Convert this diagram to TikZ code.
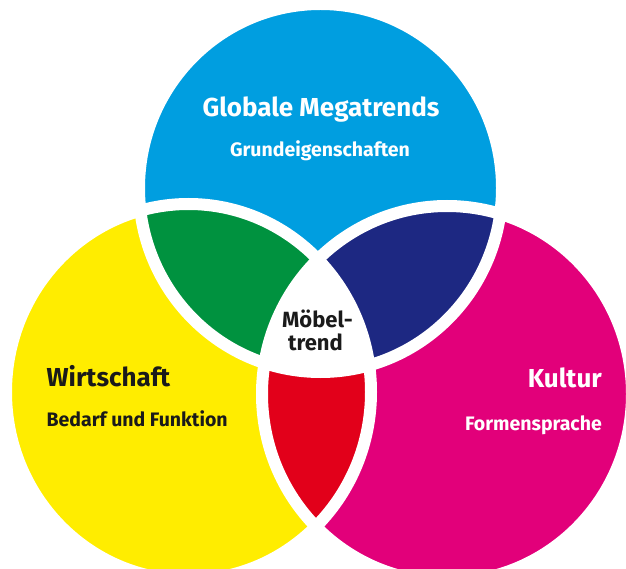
\documentclass[tikz,border=0pt]{standalone}
\usepackage{fontspec}
\setmainfont{Fira Sans}
\definecolor{cblue}{RGB}{0,158,224}
\definecolor{cyel}{RGB}{255,237,0}
\definecolor{cmag}{RGB}{226,0,122}
\definecolor{cgreen}{RGB}{0,146,63}
\definecolor{cnavy}{RGB}{29,40,130}
\definecolor{cred}{RGB}{226,0,26}
\definecolor{ctext}{RGB}{26,26,26}
\begin{document}
\begin{tikzpicture}[x=1pt,y=-1pt,
  band/.style={draw=white, line width=12pt},
  titletext/.style={font=\bfseries\fontsize{26}{30}\selectfont, inner sep=0pt},
  subtext/.style={font=\bfseries\fontsize{19.5}{23}\selectfont, inner sep=0pt},
  midtext/.style={font=\bfseries\fontsize{22}{24}\selectfont, inner sep=0pt, text=ctext}]
\useasboundingbox (0,0) rectangle (626,569);
\clip (0,0) rectangle (626,569);
\def\Bcirc{(320.5,188) ellipse [x radius=181.5pt, y radius=184pt]}
\def\Ycirc{(188.5,392) ellipse [x radius=182.5pt, y radius=188pt]}
\def\Mcirc{(447,394) ellipse [x radius=185pt, y radius=188pt]}
\fill[white] (0,0) rectangle (626,569);
\fill[cyel] \Ycirc;
\fill[cmag] \Mcirc;
\fill[cblue] \Bcirc;
\begin{scope}
  \clip \Bcirc;
  \fill[cgreen] \Ycirc;
  \fill[cnavy] \Mcirc;
\end{scope}
\begin{scope}
  \clip \Ycirc;
  \fill[cred] \Mcirc;
\end{scope}
\begin{scope}
  \clip \Bcirc;
  \clip \Ycirc;
  \fill[white] \Mcirc;
\end{scope}
\draw[band] \Bcirc;
\draw[band] \Ycirc;
\draw[band] \Mcirc;
% texts
\node[titletext, text=white, anchor=base] (glob) at (321,116.5) {Globale Megatrends};
\node[subtext, text=white, anchor=base] (grund) at (320,157) {Grundeigenschaften};
\node[titletext, text=ctext, anchor=base west] (wirt) at (46.5,386) {Wirtschaft};
\node[subtext, text=ctext, anchor=base west] (bedarf) at (46.5,426.5) {Bedarf und Funktion};
\node[titletext, text=white, anchor=base east] (kult) at (602,387) {Kultur};
\node[subtext, text=white, anchor=base east] (formen) at (602,430) {Formensprache};
\node[midtext, anchor=base] (moebel) at (317.5,327) {Möbel-};
\node[midtext, anchor=base] (trend) at (315.5,350) {trend};
\end{tikzpicture}
\end{document}
